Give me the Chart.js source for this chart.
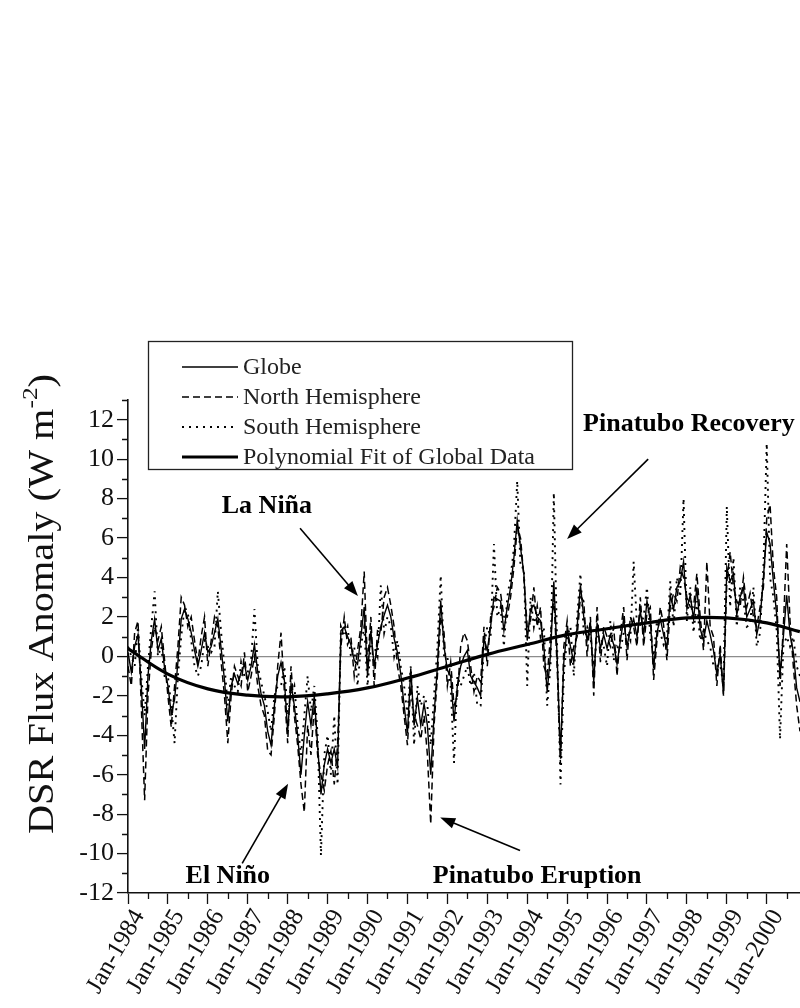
<!DOCTYPE html>
<html>
<head>
<meta charset="utf-8">
<script src="https://cdn.jsdelivr.net/npm/chart.js@4.4.1/dist/chart.umd.min.js"></script>
<style>
  body { margin: 0; background: #fff; }
</style>
</head>
<body>
<canvas id="dsrChart" width="800" height="1008"></canvas>
<script>
const serif = '"Liberation Serif", "Times New Roman", serif';

// monthly anomalies, Jan-1984 .. Nov-2000
const startYear = 1984;
const globe = [
  0.2, -0.8, 0.5, 1.1, -1.5, -4.7, -1.0, 0.8, 1.9, 0.3, 0.9, -0.6,      // 1984
  -1.5, -2.9, -2.2, -0.3, 1.9, 2.4, 1.9, 1.2, 0.3, -0.5, 0.3, 1.2,      // 1985
  0.2, 0.5, 1.2, 1.9, 0.4, -1.2, -3.3, -1.5, -0.9, -1.4, -0.8, -0.4,    // 1986
  -1.2, -0.5, 0.6, -0.8, -1.9, -2.5, -3.8, -4.5, -2.5, -1.0, -0.3, -1.2, // 1987
  -3.8, -1.4, -2.5, -4.0, -6.0, -4.0, -2.3, -3.5, -2.0, -4.5, -7.0, -5.5, // 1988
  -4.7, -5.4, -4.7, -5.6, 1.3, 1.5, 1.0, 0.6, -0.2, -0.4, 1.0, 2.5,     // 1989
  -1.0, 1.3, -0.5, 0.6, 1.5, 2.1, 2.6, 2.0, 0.9, 0.2, -0.9, -2.5,       // 1990
  -3.9, -0.6, -3.5, -2.1, -3.5, -2.4, -3.5, -6.0, -3.0, -0.5, 2.8, 0.5, // 1991
  -0.7, -1.0, -3.3, -1.5, -0.5, 0.0, 0.3, -1.0, -1.3, -1.6, -2.0, 0.9,  // 1992
  0.3, 1.5, 3.0, 2.9, 2.8, 1.3, 2.5, 3.5, 5.0, 6.9, 5.5, 4.2,           // 1993
  0.8, 2.4, 2.6, 2.0, 1.8, 0.5, -1.8, 0.1, 3.8, 0.0, -5.0, -0.3,        // 1994
  1.4, 0.5, -0.3, 1.5, 3.6, 2.0, 0.8, 1.7, -1.3, 1.7, 0.4, 1.1,         // 1995
  0.4, 1.1, 0.6, -0.4, 0.8, 1.9, 0.5, 1.4, 1.9, 1.0, 2.3, 1.1,          // 1996
  2.8, 1.8, -0.6, 1.2, 1.9, 1.1, 0.4, 3.1, 2.4, 3.5, 3.8, 4.8,          // 1997
  2.4, 3.1, 1.9, 3.5, 1.4, 0.8, 1.8, 1.1, 0.3, -0.9, 0.1, -1.9,         // 1998
  4.5, 3.8, 4.2, 2.1, 3.0, 3.5, 2.0, 2.4, 2.8, 1.1, 1.9, 4.0,           // 1999
  6.3, 5.7, 3.8, 2.1, -0.9, 1.0, 3.1, 1.1, 0.2, -1.6, -2.3              // 2000
];
const north = [
  -0.5, -1.5, 1.2, 1.8, -2.5, -7.3, -2.0, 0.3, 1.5, 0.8, 1.5, -0.2,
  -2.0, -3.6, -1.5, 0.5, 3.0, 2.6, 1.5, 2.0, 0.8, -0.3, 1.0, 2.0,
  -0.5, 0.8, 2.0, 1.5, -0.3, -2.0, -4.4, -2.0, -0.5, -1.0, -1.5, 0.2,
  -1.8, -1.0, 0.0, -1.5, -2.5, -3.0, -4.8, -5.0, -3.0, -0.5, 1.2, -1.8,
  -4.4, -0.5, -3.0, -4.5, -6.5, -7.9, -3.5, -5.0, -2.5, -5.0, -6.0, -6.8,
  -5.5, -4.8, -6.5, -4.5, 0.5, 2.0, 0.6, 1.0, -1.0, 0.3, 1.5, 4.3,
  -0.5, 2.0, -1.5, 1.3, 1.2, 3.0, 3.5, 2.6, 1.5, -0.5, -1.5, -3.0,
  -4.5, -1.5, -3.0, -3.5, -4.2, -3.0, -5.0, -8.5, -3.5, -1.0, 2.0, 1.2,
  -1.5, -0.3, -2.5, -2.0, 0.5, 1.2, 0.8, -0.5, -1.8, -1.0, -1.3, 1.5,
  -0.5, 2.0, 2.5, 3.5, 3.2, 2.0, 2.0, 3.0, 4.5, 6.5, 6.0, 4.0,
  1.5, 1.8, 3.5, 1.5, 2.5, -0.5, -1.0, 1.0, 3.0, -0.5, -5.5, 0.5,
  1.8, -0.5, 0.5, 1.0, 3.0, 2.8, 0.0, 2.0, -2.0, 2.5, -0.3, 1.5,
  1.0, 0.5, 1.5, -1.0, 1.2, 2.5, -0.2, 2.0, 1.5, 0.5, 3.0, 0.5,
  2.2, 2.5, -1.2, 0.8, 2.5, 1.6, -0.2, 2.5, 3.2, 2.8, 4.5, 4.0,
  3.0, 2.5, 2.5, 4.2, 2.0, 0.3, 4.8, 1.5, 1.0, -1.5, 0.6, -2.0,
  3.8, 5.3, 3.5, 2.8, 2.5, 4.0, 2.5, 3.2, 2.0, 1.5, 2.5, 3.5,
  7.0, 7.7, 4.5, 3.0, -1.5, 1.5, 5.7, 1.8, -0.5, -2.5, -3.8
];
const south = [
  0.5, 0.0, -0.5, 1.5, -1.0, -3.0, -0.5, 1.5, 3.3, 0.0, 0.5, -1.0,
  -1.0, -2.5, -4.4, -1.0, 1.0, 2.5, 2.2, 0.8, -0.5, -1.0, -0.5, 0.8,
  0.5, 0.2, 0.5, 3.3, 1.2, -0.5, -2.5, -1.0, -1.5, -1.8, -0.3, -1.0,
  -0.8, -0.2, 2.4, -0.5, -1.3, -2.0, -2.8, -3.8, -2.0, -1.5, -1.5, -0.5,
  -3.0, -2.0, -1.5, -3.5, -5.0, -3.0, -1.0, -2.8, -1.5, -4.0, -10.1, -5.0,
  -4.0, -6.0, -3.0, -6.5, 1.5, 1.0, 1.5, 0.0, 0.5, -1.5, 0.5, 1.5,
  -1.5, 0.5, 0.5, 0.0, 3.6, 1.2, 2.0, 1.5, 0.0, 0.8, -0.5, -1.5,
  -3.0, -0.5, -4.5, -1.5, -2.5, -2.0, -2.5, -4.5, -2.0, 0.5, 4.1, 0.0,
  0.0, -1.5, -5.4, -1.0, -1.5, -1.0, -0.5, -1.5, -0.8, -2.5, -2.5, 0.5,
  1.5, 1.0, 5.7, 2.0, 2.5, 0.5, 3.0, 4.0, 5.5, 8.9, 4.5, 4.5,
  -1.5, 3.0, 1.5, 2.5, 1.0, 1.5, -2.5, -0.5, 8.3, 0.5, -6.5, -1.0,
  1.0, 1.5, -1.0, 2.0, 4.2, 1.2, 1.5, 1.0, -0.5, 1.0, 1.0, 0.5,
  -0.5, 1.8, -0.2, 0.5, 0.3, 1.2, 1.2, 0.8, 4.8, 1.5, 1.6, 2.0,
  3.5, 1.0, 0.0, 1.8, 1.2, 0.6, 1.0, 3.8, 1.5, 4.0, 3.0, 8.0,
  1.8, 3.5, 1.2, 2.8, 0.8, 1.3, 0.8, 0.5, -0.5, -0.5, -0.4, -1.5,
  7.6, 2.5, 5.0, 1.5, 3.5, 2.8, 1.5, 1.6, 3.5, 0.5, 1.2, 4.5,
  10.8, 4.0, 3.0, 1.3, -4.2, 0.5, 1.0, 0.5, 1.0, -0.5, -1.0
];

// polynomial fit
const fitYears = [1984, 1985, 1986, 1987, 1988, 1989, 1990, 1991, 1992, 1993,
  1994, 1995, 1996, 1997, 1998, 1999, 2000, 2000.83];
const fitValues = [0.4, -0.9, -1.65, -1.97, -2.05, -1.9, -1.6, -1.1, -0.5, 0.1,
  0.6, 1.1, 1.4, 1.7, 1.95, 1.95, 1.7, 1.25];

const yTickValues = [-12, -10, -8, -6, -4, -2, 0, 2, 4, 6, 8, 10, 12];
const xTickYears = [1984, 1985, 1986, 1987, 1988, 1989, 1990, 1991, 1992,
  1993, 1994, 1995, 1996, 1997, 1998, 1999, 2000];

const notes = [
  {text: 'La Niña', x: 1987.48, y: 7.6, from: [1988.31, 6.5], to: [1989.76, 3.06]},
  {text: 'Pinatubo Recovery', x: 1998.05, y: 11.75, from: [1997.03, 10.0], to: [1995.0, 5.95]},
  {text: 'El Niño', x: 1986.5, y: -11.15, from: [1986.86, -10.5], to: [1988.01, -6.46]},
  {text: 'Pinatubo Eruption', x: 1994.25, y: -11.15, from: [1993.82, -9.85], to: [1991.82, -8.17]}
];

function monthly(values) {
  return values.map((v, i) => ({x: startYear + i / 12, y: v}));
}

const minorTicks = {
  id: 'minorTicks',
  afterDraw(chart) {
    const {ctx, scales: {x, y}} = chart;
    ctx.save();
    ctx.strokeStyle = '#111';
    ctx.lineWidth = 1.3;
    ctx.beginPath();
    for (let v = 1984.5; v < x.max; v += 1) {
      const px = Math.round(x.getPixelForValue(v)) + 0.5;
      ctx.moveTo(px, y.bottom);
      ctx.lineTo(px, y.bottom + 6);
    }
    for (let v = -11; v <= 13; v += 2) {
      const py = Math.round(y.getPixelForValue(v)) + 0.5;
      ctx.moveTo(x.left, py);
      ctx.lineTo(x.left - 6, py);
    }
    ctx.stroke();
    ctx.restore();
  }
};

// rotated year labels, drawn so their top end sits just right of the tick
const xLabels = {
  id: 'xLabels',
  afterDraw(chart) {
    const {ctx, scales: {x, y}} = chart;
    ctx.save();
    ctx.fillStyle = '#111';
    ctx.font = '25px ' + serif;
    ctx.textAlign = 'right';
    ctx.textBaseline = 'middle';
    xTickYears.forEach(yr => {
      ctx.save();
      ctx.translate(x.getPixelForValue(yr) + 11, y.bottom + 19);
      ctx.rotate(-60 * Math.PI / 180);
      ctx.fillText('Jan-' + yr, 0, 0);
      ctx.restore();
    });
    ctx.restore();
  }
};

const yTitle = {
  id: 'yTitle',
  afterDraw(chart) {
    const ctx = chart.ctx;
    const big = '35px ' + serif, small = '22px ' + serif;
    ctx.save();
    ctx.translate(44, 604);
    ctx.rotate(-Math.PI / 2);
    ctx.fillStyle = '#111';
    ctx.textBaseline = 'middle';
    ctx.font = big;
    const w1 = ctx.measureText('DSR Flux Anomaly (W m').width;
    const w3 = ctx.measureText(')').width;
    ctx.font = small;
    const w2 = ctx.measureText('-2').width;
    const total = w1 + w2 + w3;
    ctx.scale(460 / total, 1);
    let px = -total / 2;
    ctx.font = big;
    ctx.fillText('DSR Flux Anomaly (W m', px, 0);
    px += w1;
    ctx.font = small;
    ctx.fillText('-2', px, -13);
    px += w2;
    ctx.font = big;
    ctx.fillText(')', px, 0);
    ctx.restore();
  }
};

const boxLegend = {
  id: 'boxLegend',
  afterDatasetsDraw(chart) {
    const ctx = chart.ctx;
    ctx.save();
    ctx.fillStyle = '#fff';
    ctx.fillRect(148, 341, 424, 128);
    ctx.strokeStyle = '#222';
    ctx.lineWidth = 1.3;
    ctx.strokeRect(148.5, 341.5, 424, 128);
    chart.data.datasets.forEach((ds, i) => {
      const ly = 367 + i * 30;
      ctx.beginPath();
      ctx.setLineDash(ds.borderDash || []);
      ctx.lineWidth = ds.borderWidth;
      ctx.strokeStyle = '#000';
      ctx.moveTo(182, ly);
      ctx.lineTo(238, ly);
      ctx.stroke();
      ctx.setLineDash([]);
      ctx.fillStyle = '#222';
      ctx.font = '24px ' + serif;
      ctx.textBaseline = 'middle';
      ctx.fillText(ds.label, 243, ly + 1);
    });
    ctx.restore();
  }
};

const arrowNotes = {
  id: 'arrowNotes',
  afterDraw(chart) {
    const {ctx, scales: {x, y}} = chart;
    ctx.save();
    ctx.fillStyle = '#000';
    ctx.strokeStyle = '#000';
    ctx.lineWidth = 1.6;
    ctx.font = 'bold 26px ' + serif;
    ctx.textAlign = 'center';
    ctx.textBaseline = 'middle';
    notes.forEach(n => {
      ctx.fillText(n.text, x.getPixelForValue(n.x), y.getPixelForValue(n.y));
      const x1 = x.getPixelForValue(n.from[0]), y1 = y.getPixelForValue(n.from[1]);
      const x2 = x.getPixelForValue(n.to[0]), y2 = y.getPixelForValue(n.to[1]);
      const a = Math.atan2(y2 - y1, x2 - x1);
      ctx.beginPath();
      ctx.moveTo(x1, y1);
      ctx.lineTo(x2 - 10 * Math.cos(a), y2 - 10 * Math.sin(a));
      ctx.stroke();
      ctx.beginPath();
      ctx.moveTo(x2, y2);
      ctx.lineTo(x2 - 15 * Math.cos(a) + 5.5 * Math.sin(a), y2 - 15 * Math.sin(a) - 5.5 * Math.cos(a));
      ctx.lineTo(x2 - 15 * Math.cos(a) - 5.5 * Math.sin(a), y2 - 15 * Math.sin(a) + 5.5 * Math.cos(a));
      ctx.closePath();
      ctx.fill();
    });
    ctx.restore();
  }
};

const dsrChart = new Chart(document.getElementById('dsrChart'), {
  type: 'line',
  data: {
    datasets: [
      {label: 'Globe', data: monthly(globe), borderColor: '#000', borderWidth: 1.4,
        borderDash: [], order: 1},
      {label: 'North Hemisphere', data: monthly(north), borderColor: '#000', borderWidth: 1.5,
        borderDash: [7, 4], order: 2},
      {label: 'South Hemisphere', data: monthly(south), borderColor: '#000', borderWidth: 1.9,
        borderDash: [2, 5], order: 3},
      {label: 'Polynomial Fit of Global Data',
        data: fitYears.map((yr, i) => ({x: yr, y: fitValues[i]})),
        borderColor: '#000', borderWidth: 3.2, borderDash: [], tension: 0.4, order: 0}
    ]
  },
  options: {
    responsive: false,
    animation: false,
    layout: {padding: {top: 400, left: 0, right: 0, bottom: 0}},
    elements: {point: {radius: 0}, line: {tension: 0, fill: false}},
    plugins: {legend: {display: false}, tooltip: {enabled: false}},
    scales: {
      x: {
        type: 'linear',
        min: 1984,
        max: 1984 + 202 / 12,
        afterFit(scale) { scale.height = 115; },
        afterBuildTicks(scale) { scale.ticks = xTickYears.map(v => ({value: v})); },
        border: {color: '#111', width: 1.6},
        grid: {drawOnChartArea: false, tickLength: 11, tickColor: '#111', tickWidth: 1.3},
        ticks: {display: false}
      },
      y: {
        min: -12,
        max: 13,
        afterFit(scale) { scale.width = 128; },
        afterBuildTicks(scale) { scale.ticks = yTickValues.map(v => ({value: v})); },
        border: {color: '#111', width: 1.6},
        grid: {
          drawOnChartArea: true,
          color: c => (c.tick && c.tick.value === 0 ? '#8c8c8c' : 'rgba(0,0,0,0)'),
          lineWidth: 1.2,
          tickLength: 11,
          tickColor: '#111',
          tickWidth: 1.3
        },
        ticks: {
          padding: 3,
          color: '#111',
          font: {family: serif, size: 26}
        }
      }
    }
  },
  plugins: [minorTicks, xLabels, yTitle, boxLegend, arrowNotes]
});
</script>
</body>
</html>
